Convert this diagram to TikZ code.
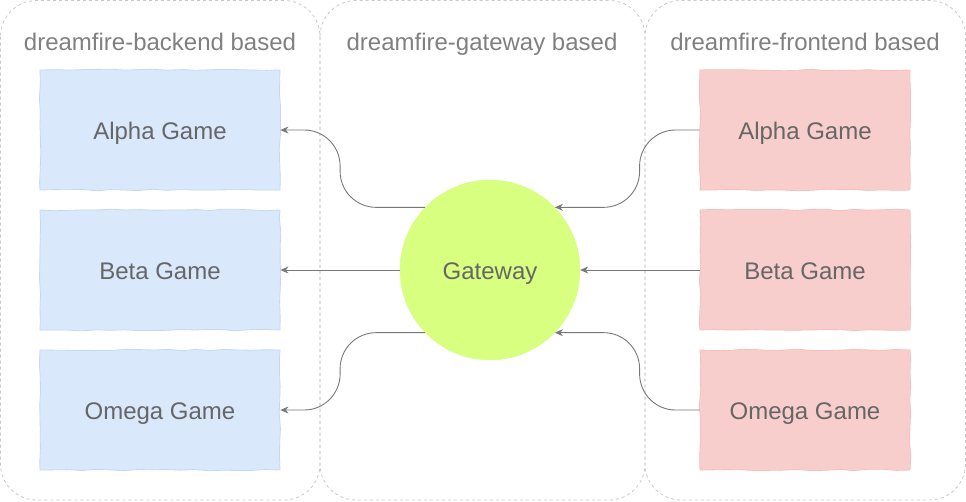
\documentclass[tikz,border=0pt]{standalone}
\usepackage{fontspec}
\setmainfont{Liberation Sans}
\usepackage{tikz}
\usetikzlibrary{arrows.meta,decorations.pathmorphing}
\definecolor{zoneline}{HTML}{C8C8C8}
\definecolor{titlegray}{HTML}{808080}
\definecolor{label}{HTML}{666666}
\definecolor{link}{HTML}{787878}
\definecolor{bluefill}{HTML}{DAE8FC}
\definecolor{blueline}{HTML}{C4D8F6}
\definecolor{redfill}{HTML}{F8CECC}
\definecolor{redline}{HTML}{F4BFBC}
\definecolor{lime}{HTML}{D9FF80}
\tikzset{
  zone/.style={draw=zoneline, dash pattern=on 3pt off 3pt, line width=0.8pt, rounded corners=36pt},
  bigtext/.style={font=\fontsize{24}{28}\selectfont, text height=22pt, text depth=3.4pt},
  ztitle/.style={bigtext, text=titlegray},
  game/.style={bigtext, minimum height=120pt, text=label,
    line width=0.8pt, decorate, decoration={random steps, segment length=14pt, amplitude=0.8pt}},
  back/.style={game, fill=bluefill, draw=blueline, minimum width=240pt},
  front/.style={game, fill=redfill, draw=redline, minimum width=210pt},
  gate/.style={bigtext, circle, fill=lime, draw=lime, minimum size=180pt, inner sep=0pt, text=label},
  link/.style={draw=link, line width=0.9pt, rounded corners=36pt,
    -{Stealth[length=8pt,width=7pt,inset=2.5pt]}}
}
\begin{document}
\begin{tikzpicture}[x=1pt,y=-1pt]
  \useasboundingbox (0,0) rectangle (966,501);

  % zones
  \draw[zone] (0.5,0.5) rectangle (320,500);
  \draw[zone] (320,0.5) rectangle (645,500);
  \draw[zone] (645,0.5) rectangle (965.5,500);
  \node[ztitle] (tback) at (160,41) {dreamfire-backend based};
  \node[ztitle] (tgate) at (482,41) {dreamfire-gateway based};
  \node[ztitle] (tfront) at (805,41) {dreamfire-frontend based};

  % games
  \node[back] (ba) at (160,130) {Alpha Game};
  \node[back] (bb) at (160,270) {Beta Game};
  \node[back] (bo) at (160,410) {Omega Game};
  \node[front] (fa) at (805,130) {Alpha Game};
  \node[front] (fb) at (805,270) {Beta Game};
  \node[front] (fo) at (805,410) {Omega Game};

  \node[gate] (gw) at (490,270) {Gateway};

  % gateway to backend
  \draw[link] (gw.136) -- ++(-85,0) |- (ba.east);
  \draw[link] (gw.west) -- (bb.east);
  \draw[link] (gw.224) -- ++(-85,0) |- (bo.east);

  % frontend to gateway
  \draw[link] (fa.west) -- ++(-60,0) |- (gw.44);
  \draw[link] (fb.west) -- (gw.east);
  \draw[link] (fo.west) -- ++(-60,0) |- (gw.316);
\end{tikzpicture}
\end{document}
